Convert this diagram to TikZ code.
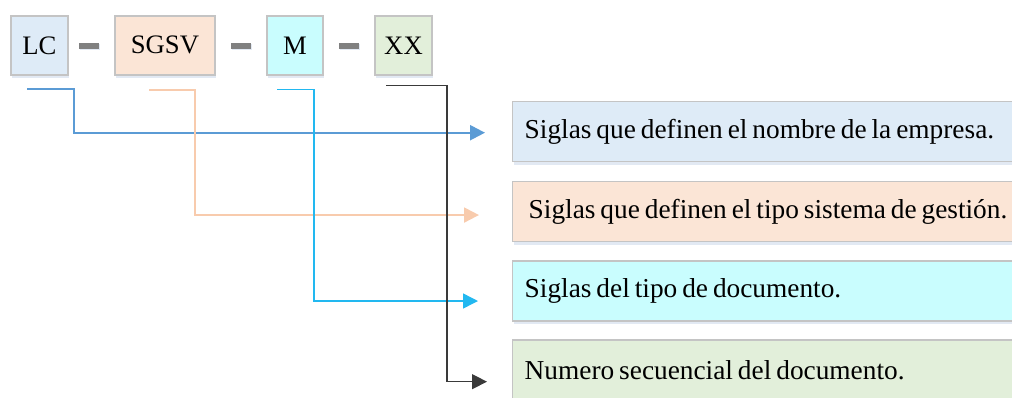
\documentclass[tikz,border=0pt]{standalone}
\usepackage{fontspec}
\setmainfont{Liberation Serif}
\usetikzlibrary{arrows.meta,shadows,calc}
\definecolor{fLC}{HTML}{DEEBF7}
\definecolor{fSG}{HTML}{FBE5D6}
\definecolor{fM}{HTML}{C9FDFE}
\definecolor{fXX}{HTML}{E2EFDA}
\definecolor{bord}{HTML}{C4C4C4}
\definecolor{cBlue}{HTML}{5B9BD5}
\definecolor{cOrange}{HTML}{F8CBAD}
\definecolor{cCyan}{HTML}{22B8F0}
\definecolor{cBlack}{HTML}{3A3A3A}
\definecolor{shad}{HTML}{D5E0EE}
\newcommand\tightspaces{\spaceskip=3.7pt plus 1pt minus 1pt\relax}
\tikzset{
  codebox/.style={draw=bord, line width=1.1pt, minimum height=44.25pt, inner sep=0pt,
    font=\fontsize{20}{24}\selectfont,
    drop shadow={shadow xshift=0.6pt, shadow yshift=-2.2pt, fill=shad, opacity=0.7}},
  descbox/.style={draw=bord, line width=1.1pt, minimum height=45pt, minimum width=390pt,
    text width=372pt, align=left, inner xsep=8.25pt, inner ysep=0pt, anchor=west,
    font=\fontsize{20.5}{24}\selectfont\tightspaces,
    drop shadow={shadow xshift=0.6pt, shadow yshift=-2.2pt, fill=shad, opacity=0.7}},
  sepdash/.style={fill=gray, minimum width=15pt, minimum height=4.5pt, inner sep=0pt,
    drop shadow={shadow xshift=0.4pt, shadow yshift=-1.2pt, fill=shad, opacity=0.7}},
  tipA/.style={-{Triangle[length=11.25pt,width=11.25pt]}},
}
\begin{document}
\begin{tikzpicture}[x=0.75pt,y=-0.75pt]
\useasboundingbox (0,0) rectangle (1012,397);
\clip (0,0) rectangle (1012,397);
% top code boxes
\node[codebox, fill=fLC, minimum width=42.75pt] (lc) at (39.3,45.3) {LC};
\node[codebox, fill=fSG, minimum width=75pt] (sgsv) at (165,45.3) {SGSV};
\node[codebox, fill=fM, minimum width=42pt] (m) at (295,45.3) {M};
\node[codebox, fill=fXX, minimum width=42.75pt] (xx) at (403.5,45.3) {XX};
% separators
\node[sepdash] (d1) at (89,45.5) {};
\node[sepdash] (d2) at (241,45.5) {};
\node[sepdash] (d3) at (349,45.5) {};
% description boxes
\node[descbox, fill=fLC] (t1) at (512,131.7) {\tightspaces Siglas que definen el nombre de la empresa.};
\node[descbox, fill=fSG] (t2) at (512,211.7) {\tightspaces\hspace*{3pt}Siglas que definen el tipo sistema de gestión.};
\node[descbox, fill=fM] (t3) at (512,291) {\tightspaces Siglas del tipo de documento.};
\node[descbox, fill=fXX] (t4) at (512,370) {\tightspaces Numero secuencial del documento.};
% start points
\coordinate (s1) at (27,89.3);
\coordinate (s2) at (149,89.5);
\coordinate (s3) at (277,89.5);
\coordinate (s4) at (386,85.3);
% connectors
\draw[cBlue, line width=1.7pt, tipA, shorten >=20.25pt] (s1) -- ++(47,0) |- ([yshift=-0.75pt]t1.west);
\draw[cOrange, line width=1.5pt, tipA, shorten >=24.75pt] (s2) -- ++(46,0) |- ([yshift=-2.5pt]t2.west);
\draw[cCyan, line width=1.1pt, tipA, shorten >=25.5pt] (s3) -- ++(37,0) |- ([yshift=-7.5pt]t3.west);
\draw[cBlack, line width=0.9pt, tipA, shorten >=18.75pt] (s4) -- ++(61,0) |- ([yshift=-8.75pt]t4.west);
\end{tikzpicture}
\end{document}
